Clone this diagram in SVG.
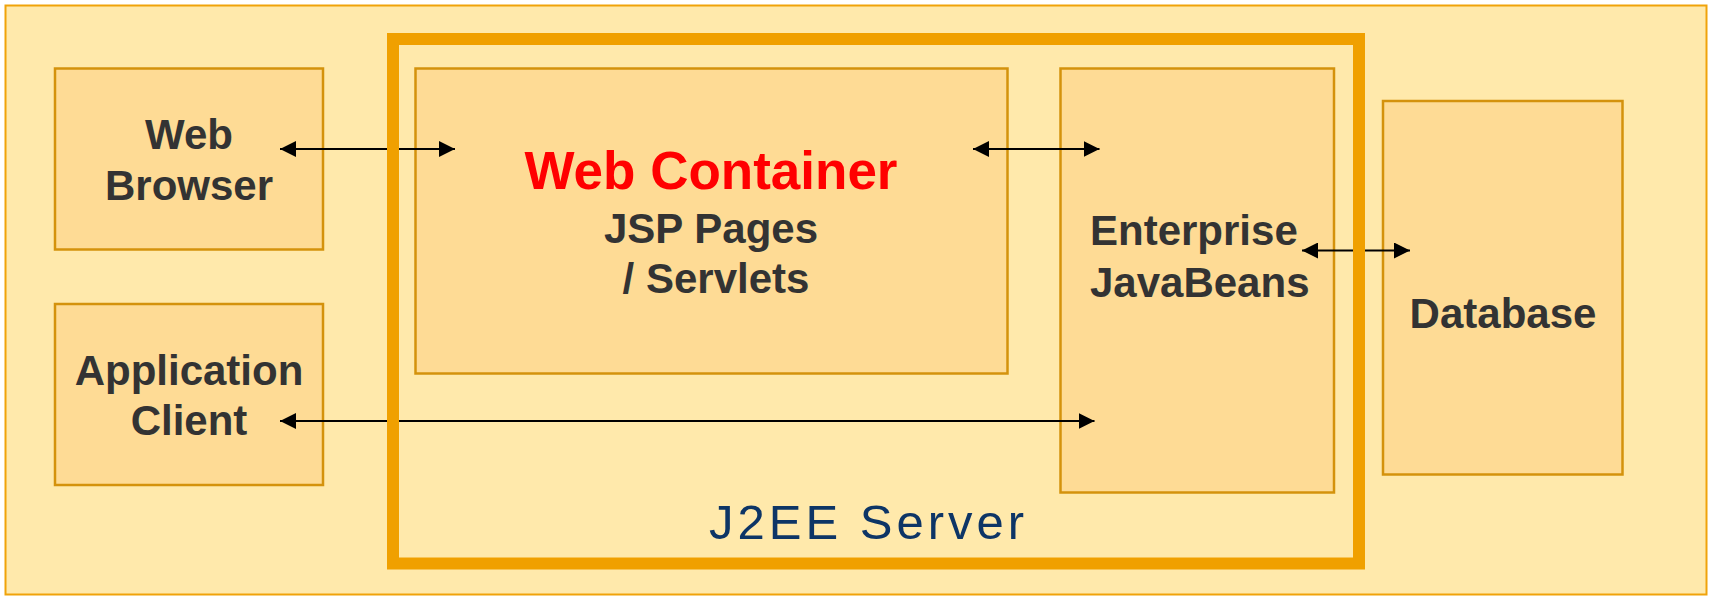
<svg xmlns="http://www.w3.org/2000/svg" width="1711" height="596" viewBox="0 0 1711 596">
  <style>
    .bg { fill: #FFE9AB; stroke: #F0A30A; stroke-width: 2; }
    .box { fill: #FEDB95; stroke: #D4920C; stroke-width: 2.5; }
    .srv { fill: none; stroke: #F0A000; stroke-width: 12; }
    .lbl { font-family: "Liberation Sans", Arial, sans-serif; font-weight: bold; font-size: 42px; fill: #333333; text-anchor: middle; }
    .red { font-family: "Liberation Sans", Arial, sans-serif; font-weight: bold; font-size: 53px; fill: #FF0000; text-anchor: middle; }
    .srvlbl { font-family: "Liberation Sans", Arial, sans-serif; font-size: 49px; fill: #0D3566; text-anchor: middle; letter-spacing: 4px; }
    .conn { stroke: #000000; stroke-width: 2.2; fill: none; marker-start: url(#arr); marker-end: url(#arr); }
  </style>
  <defs>
    <marker id="arr" markerUnits="userSpaceOnUse" markerWidth="16" markerHeight="16" refX="16" refY="8" orient="auto-start-reverse" viewBox="0 0 16 16">
      <path d="M0,0 L16,8 L0,16 z" fill="#000000"/>
    </marker>
  </defs>

  <rect id="background" class="bg" x="5.5" y="5.5" width="1701" height="589"/>

  <g id="web-browser">
    <rect class="box" x="55" y="68.5" width="268" height="181"/>
    <text class="lbl" x="189" y="149">Web</text>
    <text class="lbl" x="189" y="200">Browser</text>
  </g>

  <g id="application-client">
    <rect class="box" x="55" y="304" width="268" height="181"/>
    <text class="lbl" x="189" y="385">Application</text>
    <text class="lbl" x="189" y="435">Client</text>
  </g>

  <g id="web-container">
    <rect class="box" x="415.5" y="68.5" width="592" height="305"/>
    <text class="red" x="711" y="189">Web Container</text>
    <text class="lbl" x="711" y="243">JSP Pages</text>
    <text class="lbl" x="716" y="293">/ Servlets</text>
  </g>

  <g id="enterprise-javabeans">
    <rect class="box" x="1060.5" y="68.5" width="273.5" height="424"/>
    <text class="lbl" x="1090" y="245" style="text-anchor:start">Enterprise</text>
    <text class="lbl" x="1090" y="297" style="text-anchor:start">JavaBeans</text>
  </g>

  <g id="database">
    <rect class="box" x="1383" y="101" width="239.5" height="373.5"/>
    <text class="lbl" x="1503" y="328">Database</text>
  </g>

  <g id="connectors">
    <line class="conn" x1="280" y1="149" x2="455" y2="149"/>
    <line class="conn" x1="973" y1="149" x2="1099.5" y2="149"/>
    <line class="conn" x1="1302" y1="250.5" x2="1410" y2="250.5"/>
    <line class="conn" x1="280" y1="421" x2="1094.5" y2="421"/>
  </g>

  <g id="j2ee-server">
    <rect class="srv" x="393" y="39" width="966" height="524.5"/>
    <text class="srvlbl" x="868.5" y="539">J2EE Server</text>
  </g>
</svg>
